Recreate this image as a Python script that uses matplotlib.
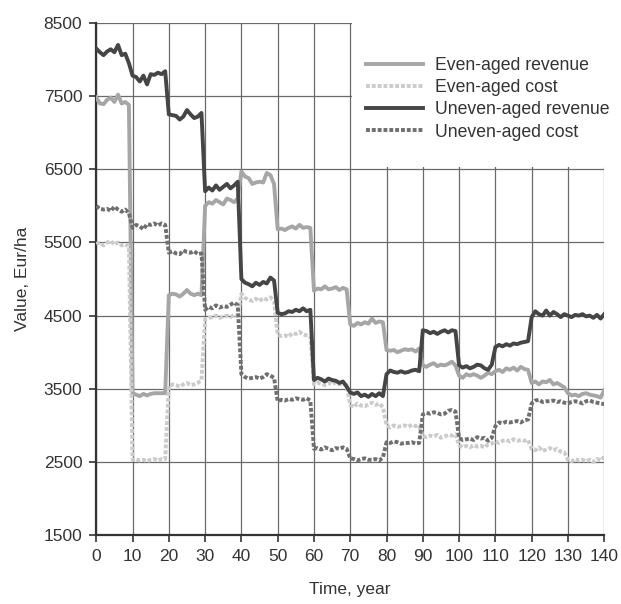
import matplotlib.pyplot as plt
from matplotlib.patches import Rectangle

plt.rcParams['font.family'] = ['Liberation Sans', 'DejaVu Sans']

anos = list(range(0, 141))

receita_equiania = [
    7480, 7400, 7390, 7450, 7480, 7420, 7520, 7400, 7420, 7380,
    3440, 3420, 3400, 3430, 3410, 3430, 3440, 3440, 3440, 3440,
    4780, 4800, 4790, 4760, 4800, 4850, 4800, 4780, 4800, 4780,
    6000, 6050, 6030, 6080, 6050, 6020, 6100, 6080, 6050, 6100,
    6470, 6400, 6380, 6300, 6320, 6330, 6320, 6450, 6420, 6300,
    5680, 5690, 5670, 5700, 5720, 5690, 5740, 5700, 5710, 5700,
    4840, 4870, 4860, 4900, 4860, 4870, 4890, 4850, 4880, 4860,
    4380, 4360, 4400, 4380, 4410, 4390, 4460, 4400, 4420, 4410,
    4030, 4020, 4030, 4000, 4020, 4040, 4030, 4040, 4010, 4050,
    3820, 3800, 3830, 3850, 3810, 3830, 3820, 3840, 3870, 3820,
    3680, 3650, 3700, 3680, 3700, 3680, 3650, 3680, 3720, 3700,
    3740, 3760, 3730, 3780, 3760, 3790, 3750, 3800, 3770, 3760,
    3580, 3600, 3560, 3600, 3590, 3620, 3560, 3580, 3550, 3520,
    3440, 3410, 3420, 3400, 3430, 3440, 3420, 3410, 3400, 3380, 3480,
]

custo_equiania = [
    5480, 5500, 5460, 5500, 5520, 5470, 5500, 5460, 5470, 5450,
    2530, 2540, 2520, 2530, 2510, 2530, 2540, 2520, 2540, 2540,
    3540, 3560, 3550, 3530, 3560, 3580, 3550, 3560, 3580, 3620,
    4450, 4470, 4480, 4500, 4470, 4490, 4500, 4480, 4510, 4500,
    4800, 4740, 4720, 4700, 4730, 4700, 4740, 4720, 4750, 4700,
    4240, 4220, 4230, 4210, 4260, 4250, 4280, 4240, 4230, 4220,
    3560, 3580, 3570, 3550, 3580, 3560, 3590, 3560, 3570, 3550,
    3280, 3250, 3300, 3270, 3260, 3290, 3310, 3280, 3300, 3250,
    3000, 2970, 3000, 2980, 2990, 3000, 2980, 3010, 2990, 3000,
    2850, 2840, 2860, 2850, 2870, 2830, 2850, 2870, 2860, 2880,
    2730, 2700, 2720, 2700, 2730, 2710, 2720, 2700, 2740, 2750,
    2780, 2760, 2790, 2800, 2780, 2810, 2790, 2800, 2790, 2800,
    2680, 2660, 2700, 2650, 2670, 2690, 2660, 2680, 2640, 2630,
    2530, 2510, 2540, 2520, 2530, 2510, 2530, 2500, 2540, 2520, 2570,
]

receita_inequiania = [
    8150, 8100, 8060, 8110, 8140, 8100, 8200, 8060, 8080, 7950,
    7780, 7760, 7700, 7780, 7660, 7800, 7790, 7820, 7800, 7840,
    7250, 7240, 7230, 7180, 7220, 7310, 7250, 7200, 7220, 7270,
    6200, 6250, 6210, 6280, 6220, 6260, 6300, 6240, 6280, 6330,
    5000, 4950, 4930, 4900, 4950, 4920, 4960, 4940, 5020, 4980,
    4540, 4520, 4530, 4560, 4550, 4580, 4560, 4600, 4560, 4580,
    3620, 3650, 3630, 3600, 3640, 3620, 3610, 3580, 3600, 3530,
    3450, 3430, 3450, 3400, 3420, 3390, 3430, 3400, 3440, 3400,
    3700, 3750, 3730, 3720, 3740, 3720, 3730, 3750, 3760, 3740,
    4300, 4290, 4260, 4280, 4250, 4280, 4300, 4270, 4300, 4290,
    3820, 3790, 3810, 3780, 3800, 3830, 3820, 3780, 3760, 3830,
    4070, 4100, 4080, 4110, 4090, 4120, 4110, 4130, 4140, 4150,
    4480, 4560, 4520, 4500, 4570, 4500, 4550, 4520, 4480, 4520,
    4500, 4480, 4510, 4500, 4520, 4490, 4500, 4470, 4510, 4460, 4520,
]

custo_inequiania = [
    6000, 5960, 5950, 5960, 5930, 5990, 5950, 5920, 5950, 5900,
    5700, 5740, 5720, 5680, 5750, 5740, 5760, 5730, 5760, 5740,
    5360, 5380, 5350, 5340, 5390, 5370, 5360, 5380, 5340, 5350,
    4580, 4620, 4600, 4640, 4610, 4630, 4620, 4650, 4680, 4640,
    3700, 3660, 3640, 3650, 3660, 3640, 3660, 3700, 3680, 3650,
    3330, 3350, 3340, 3360, 3350, 3370, 3360, 3350, 3370, 3340,
    2680, 2690, 2670, 2700, 2680, 2660, 2690, 2680, 2700, 2680,
    2550, 2540, 2520, 2540, 2550, 2530, 2530, 2540, 2520, 2560,
    2770, 2760, 2780, 2770, 2750, 2760, 2760, 2770, 2750, 2760,
    3150, 3170, 3160, 3180, 3170, 3150, 3160, 3200, 3210, 3190,
    2830, 2800, 2810, 2820, 2800, 2840, 2820, 2830, 2790, 2830,
    2990, 3040, 3030, 3050, 3040, 3050, 3060, 3040, 3070, 3080,
    3300, 3340, 3350, 3320, 3330, 3330, 3340, 3320, 3330, 3310,
    3300, 3320, 3330, 3320, 3300, 3330, 3340, 3320, 3310, 3300, 3290,
]

nomes = ['Even-aged revenue', 'Even-aged cost', 'Uneven-aged revenue', 'Uneven-aged cost']
x_ticks = list(range(0, 141, 10))
y_ticks = list(range(1500, 8501, 1000))

fig = plt.figure(figsize=(6.21, 6.04), dpi=100)
ax = fig.add_axes([0.155, 0.114, 0.818, 0.848])

tracejado = (0, (1.0, 0.5))
ax.plot(anos, receita_equiania, color='#a6a6a6', lw=2.8, label=nomes[0], zorder=3)
ax.plot(anos, custo_equiania, color='#cbcbcb', lw=2.8, ls=tracejado, label=nomes[1], zorder=3)
ax.plot(anos, receita_inequiania, color='#454545', lw=2.8, label=nomes[2], zorder=3)
ax.plot(anos, custo_inequiania, color='#6f6f6f', lw=2.8, ls=tracejado, label=nomes[3], zorder=3)

ax.set_xlim(0, 140)
ax.set_ylim(1500, 8500)
ax.set_xticks(x_ticks)
ax.set_yticks(y_ticks)
ax.grid(True, color='#6a6a6a', lw=0.9)
ax.set_axisbelow(True)

# area branca atras da legenda
ax.add_patch(Rectangle((70.6, 6530), 71, 2100, facecolor='white', edgecolor='none',
                       zorder=1, clip_on=False))

for lado in ['top', 'right']:
    ax.spines[lado].set_visible(False)
for lado in ['left', 'bottom']:
    ax.spines[lado].set_color('#333333')
    ax.spines[lado].set_linewidth(1.6)
ax.tick_params(direction='out', length=5, width=1.2, color='#333333',
               labelsize=12.5, labelcolor='#333333', pad=5)

ax.set_xlabel('Time, year', fontsize=12.5, color='#333333', labelpad=13)
ax.set_ylabel('Value, Eur/ha', fontsize=12.5, color='#333333', labelpad=10)

ax.legend(loc='upper left', bbox_to_anchor=(0.5, 0.965), frameon=False,
          fontsize=12.7, handlelength=3.2, handletextpad=0.7, labelspacing=0.3,
          labelcolor='#333333')

plt.savefig('out.png', dpi=100)
